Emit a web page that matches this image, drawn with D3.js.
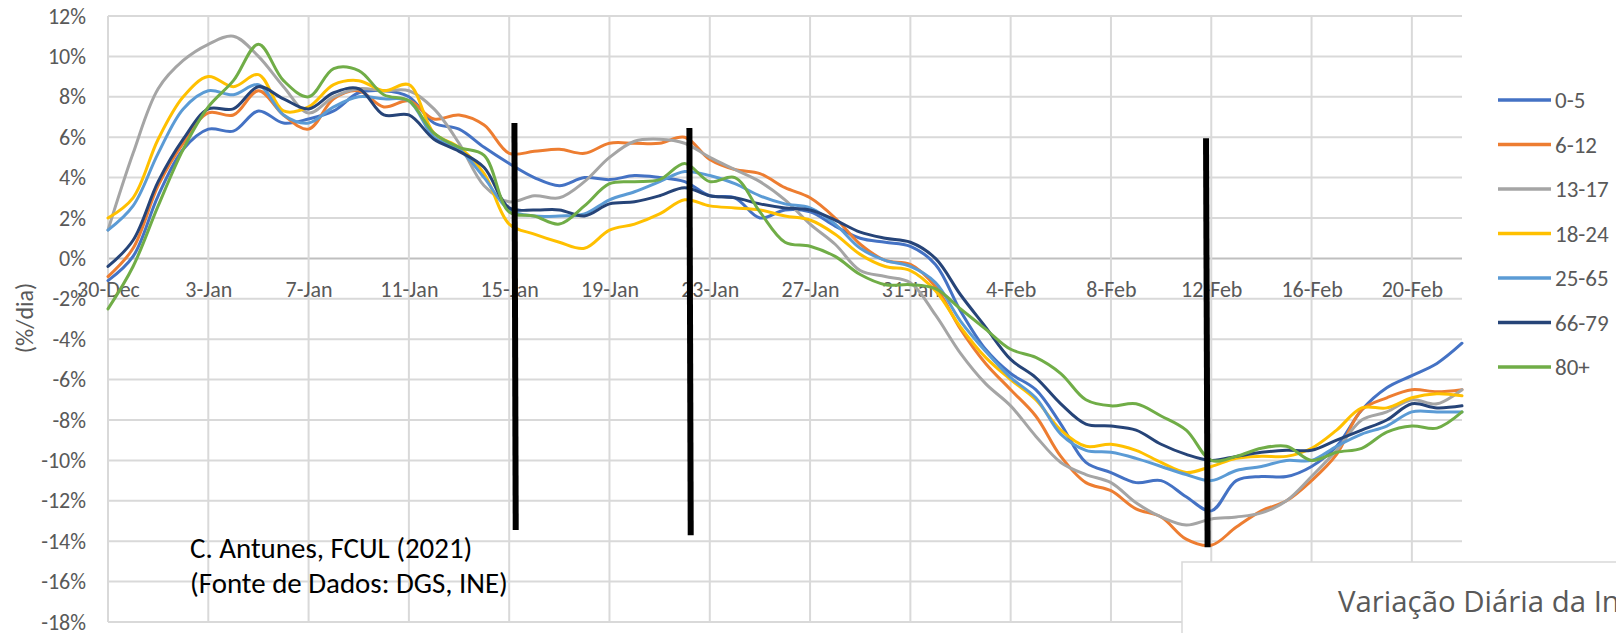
<!DOCTYPE html>
<html>
<head>
<meta charset="utf-8">
<script src="https://cdn.jsdelivr.net/npm/d3@7"></script>
<style>
  html, body { margin: 0; padding: 0; background: #fff; }
  svg text { font-family: Carlito, Calibri, Lato, "Liberation Sans", sans-serif; }
</style>
</head>
<body>
<div id="chart"></div>
<script>
// dias (30-Dec-2020 a 22-Feb-2021)
const dias = [
  "2020-12-30","2020-12-31","2021-01-01","2021-01-02","2021-01-03","2021-01-04","2021-01-05","2021-01-06",
  "2021-01-07","2021-01-08","2021-01-09","2021-01-10","2021-01-11","2021-01-12","2021-01-13","2021-01-14",
  "2021-01-15","2021-01-16","2021-01-17","2021-01-18","2021-01-19","2021-01-20","2021-01-21","2021-01-22",
  "2021-01-23","2021-01-24","2021-01-25","2021-01-26","2021-01-27","2021-01-28","2021-01-29","2021-01-30",
  "2021-01-31","2021-02-01","2021-02-02","2021-02-03","2021-02-04","2021-02-05","2021-02-06","2021-02-07",
  "2021-02-08","2021-02-09","2021-02-10","2021-02-11","2021-02-12","2021-02-13","2021-02-14","2021-02-15",
  "2021-02-16","2021-02-17","2021-02-18","2021-02-19","2021-02-20","2021-02-21","2021-02-22"
];

const grupos = ["0-5", "6-12", "13-17", "18-24", "25-65", "66-79", "80+"];
const cores = ["#4472C4", "#ED7D31", "#A5A5A5", "#FFC000", "#5B9BD5", "#264478", "#70AD47"];

// variação diária (%/dia) por grupo etário
const g0_5 = [-1.1,0.1,3.1,5.4,6.4,6.3,7.3,6.7,6.9,7.3,8.2,8.3,8.0,6.7,6.4,5.5,4.7,4.0,3.6,4.0,3.9,4.1,4.0,3.8,3.1,3.0,2.0,2.4,2.3,1.6,1.0,0.8,0.6,-0.3,-2.6,-4.5,-5.7,-6.5,-8.2,-10.1,-10.6,-11.1,-11.0,-11.8,-12.5,-11.0,-10.8,-10.8,-10.3,-9.3,-7.5,-6.4,-5.8,-5.2,-4.2];
const g6_12 = [-0.9,0.5,3.6,5.7,7.2,7.1,8.3,7.1,6.4,7.9,8.3,7.5,7.8,6.9,7.1,6.6,5.2,5.3,5.4,5.2,5.7,5.7,5.7,6.0,4.9,4.4,4.2,3.5,3.0,2.0,0.7,-0.1,-0.3,-1.4,-3.5,-5.2,-6.5,-7.8,-9.8,-11.1,-11.5,-12.4,-12.8,-13.9,-14.2,-13.3,-12.5,-12.0,-11.0,-9.7,-7.5,-6.9,-6.5,-6.6,-6.5];
const g13_17 = [1.4,5.2,8.4,9.8,10.6,11.0,10.0,8.5,7.2,8.0,8.4,8.3,8.3,7.4,5.7,3.6,2.8,3.1,3.0,3.8,5.0,5.8,5.9,5.7,5.0,4.4,3.8,2.9,1.7,0.7,-0.6,-0.9,-1.2,-2.8,-4.7,-6.2,-7.3,-8.8,-10.1,-10.7,-11.1,-12.1,-12.8,-13.2,-12.9,-12.8,-12.6,-12.0,-10.8,-9.5,-8.0,-7.6,-7.0,-7.2,-6.5];
const g18_24 = [2.0,3.0,5.9,8.0,9.0,8.5,9.1,7.3,7.5,8.6,8.8,8.3,8.6,6.2,5.5,4.2,1.7,1.2,0.8,0.5,1.4,1.7,2.2,2.9,2.6,2.5,2.4,2.1,1.9,1.2,0.2,-0.4,-0.6,-1.6,-3.4,-4.9,-6.0,-7.0,-8.5,-9.3,-9.2,-9.5,-10.1,-10.6,-10.3,-9.9,-9.8,-9.8,-9.4,-8.5,-7.4,-7.4,-6.9,-6.7,-6.8];
const g25_65 = [1.4,2.6,5.2,7.4,8.3,8.1,8.6,7.1,6.7,7.5,8.0,7.9,7.8,6.0,5.4,4.0,2.4,2.1,2.1,2.2,2.9,3.3,3.8,4.3,4.1,3.7,3.1,2.7,2.5,1.7,0.5,-0.1,-0.4,-1.2,-3.1,-4.6,-5.9,-6.9,-8.7,-9.5,-9.6,-9.9,-10.3,-10.7,-11.0,-10.5,-10.3,-10.0,-10.0,-9.3,-8.7,-8.3,-7.6,-7.6,-7.6];
const g66_79 = [-0.4,0.9,3.8,5.9,7.4,7.4,8.5,7.9,7.4,8.2,8.4,7.1,7.1,5.9,5.3,4.5,2.5,2.4,2.4,2.1,2.7,2.8,3.1,3.5,3.1,3.0,2.7,2.5,2.4,1.9,1.3,1.0,0.8,0.0,-1.8,-3.4,-5.0,-5.9,-7.2,-8.2,-8.3,-8.5,-9.2,-9.7,-10.0,-9.8,-9.6,-9.5,-9.5,-9.0,-8.5,-8.0,-7.2,-7.4,-7.3];
const g80 = [-2.5,-0.4,2.6,5.4,7.5,8.8,10.6,8.8,8.0,9.4,9.3,8.1,7.8,6.2,5.5,5.1,2.3,2.1,1.7,2.6,3.7,3.8,3.9,4.7,3.8,4.0,2.3,0.8,0.6,0.1,-0.8,-1.3,-1.3,-1.5,-2.5,-3.5,-4.5,-4.9,-5.7,-7.0,-7.3,-7.2,-7.8,-8.5,-10.0,-9.8,-9.4,-9.3,-10.0,-9.6,-9.4,-8.6,-8.3,-8.4,-7.6];

const series = [g0_5, g6_12, g13_17, g18_24, g25_65, g66_79, g80];

const yTicks = [-18,-16,-14,-12,-10,-8,-6,-4,-2,0,2,4,6,8,10,12];
const xTicks = ["2020-12-30","2021-01-03","2021-01-07","2021-01-11","2021-01-15","2021-01-19","2021-01-23",
  "2021-01-27","2021-01-31","2021-02-04","2021-02-08","2021-02-12","2021-02-16","2021-02-20"];

// marcos verticais (data, valor topo, valor base)
const marcos = [
  { d1: "2021-01-15T05:00", v1: 6.7, d2: "2021-01-15T06:15", v2: -13.45 },
  { d1: "2021-01-22T04:30", v1: 6.45, d2: "2021-01-22T05:45", v2: -13.7 },
  { d1: "2021-02-11T19:00", v1: 5.95, d2: "2021-02-11T20:30", v2: -14.3 }
];

const autoria = ["C. Antunes, FCUL (2021)", "(Fonte de Dados: DGS, INE)"];
const titulo = "Variação Diária da Incidência";

// ajusta o tamanho da letra para que o texto ocupe a largura pretendida
function ajustarLetra(svg, texto, largura, base, familia) {
  const t = svg.append("text").style("font-size", base + "px").text(texto);
  if (familia) t.style("font-family", familia);
  const w = t.node().getComputedTextLength();
  t.remove();
  return base * largura / w;
}

function desenhar() {
  const width = 1616, height = 633;
  const parse = d3.isoParse;

  const svg = d3.select("#chart").append("svg")
    .attr("width", width)
    .attr("height", height);

  const x = d3.scaleTime()
    .domain([parse(dias[0]), parse(dias[dias.length - 1])])
    .range([108, 1462]);
  const y = d3.scaleLinear().domain([-18, 12]).range([622, 16]);

  // grelha
  svg.append("g").selectAll("line").data(yTicks).join("line")
    .attr("x1", 108).attr("x2", 1462)
    .attr("y1", d => y(d)).attr("y2", d => y(d))
    .attr("stroke", d => d === 0 ? "#BFBFBF" : "#D9D9D9")
    .attr("stroke-width", 2);

  svg.append("g").selectAll("line").data(xTicks).join("line")
    .attr("x1", d => x(parse(d))).attr("x2", d => x(parse(d)))
    .attr("y1", y(12)).attr("y2", y(-18))
    .attr("stroke", "#D9D9D9")
    .attr("stroke-width", 2);

  // eixo Y
  const eixoY = svg.append("g")
    .attr("transform", "translate(108,0)")
    .call(d3.axisLeft(y).tickValues(yTicks).tickSize(0).tickPadding(22).tickFormat(d => d + "%"));
  eixoY.select(".domain").remove();
  eixoY.selectAll("text").attr("fill", "#595959").style("font-size", "22px");

  // eixo X (cruza em 0%)
  const eixoX = svg.append("g")
    .attr("transform", `translate(0,${y(0)})`)
    .call(d3.axisBottom(x).tickValues(xTicks.map(parse)).tickSize(0).tickPadding(23)
      .tickFormat(d3.timeFormat("%-d-%b")));
  eixoX.select(".domain").remove();
  eixoX.selectAll("text").attr("fill", "#595959").style("font-size", "22px");

  svg.append("text")
    .attr("transform", "translate(33,318) rotate(-90)")
    .attr("text-anchor", "middle")
    .attr("fill", "#595959")
    .style("font-size", "24px")
    .text("(%/dia)");

  // linhas
  const linha = d3.line()
    .x((d, i) => x(parse(dias[i])))
    .y(d => y(d))
    .curve(d3.curveCatmullRom.alpha(0.5));

  svg.append("g").selectAll("path").data(series).join("path")
    .attr("d", d => linha(d))
    .attr("fill", "none")
    .attr("stroke", (d, i) => cores[i])
    .attr("stroke-width", 3)
    .attr("stroke-linejoin", "round")
    .attr("stroke-linecap", "round");

  // marcos
  svg.append("g").selectAll("line").data(marcos).join("line")
    .attr("x1", d => x(parse(d.d1))).attr("y1", d => y(d.v1))
    .attr("x2", d => x(parse(d.d2))).attr("y2", d => y(d.v2))
    .attr("stroke", "#000")
    .attr("stroke-width", 6);

  // legenda
  const legenda = svg.append("g").attr("transform", "translate(1498,100)");
  const item = legenda.selectAll("g").data(grupos).join("g")
    .attr("transform", (d, i) => `translate(0,${i * 44.5})`);
  item.append("line")
    .attr("x1", 0).attr("x2", 53)
    .attr("stroke", (d, i) => cores[i])
    .attr("stroke-width", 3.5);
  item.append("text")
    .attr("x", 57).attr("dy", "0.35em")
    .attr("fill", "#595959")
    .style("font-size", "23px")
    .text(d => d);

  // autoria
  const fAutoria = ajustarLetra(svg, autoria[1], 318, 24);
  svg.append("g").selectAll("text").data(autoria).join("text")
    .attr("x", 190)
    .attr("y", (d, i) => 558 + i * 35)
    .attr("fill", "#000")
    .style("font-size", fAutoria + "px")
    .text(d => d);

  // caixa do título (cortada)
  svg.append("rect")
    .attr("x", 1182).attr("y", 562)
    .attr("width", 500).attr("height", 120)
    .attr("fill", "#fff")
    .attr("stroke", "#D9D9D9")
    .attr("stroke-width", 1.5);
  const familiaTitulo = "'Open Sans', sans-serif";
  const fTitulo = ajustarLetra(svg, "Variação Diária da In", 282, 26, familiaTitulo);
  svg.append("text")
    .attr("x", 1338).attr("y", 612)
    .attr("fill", "#595959")
    .style("font-family", familiaTitulo)
    .style("font-size", fTitulo + "px")
    .text(titulo);
}

desenhar();
</script>
</body>
</html>
